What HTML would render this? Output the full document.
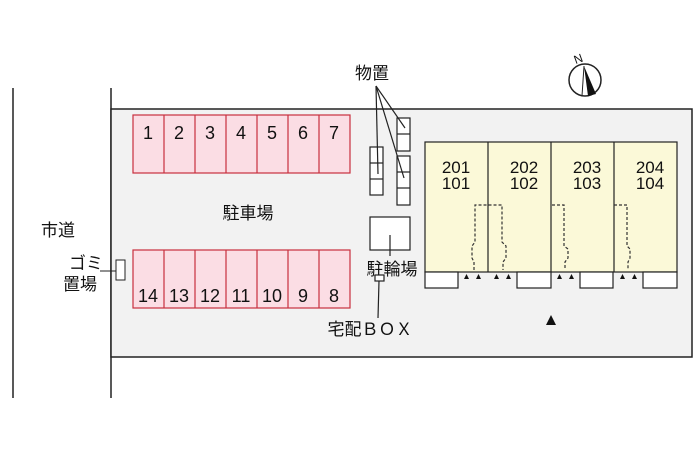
<!DOCTYPE html><html><head><meta charset="utf-8"><style>
body{margin:0;background:#fff}
svg text{font-family:"Liberation Sans","Noto Sans CJK JP",sans-serif;fill:#111}
</style></head><body>
<svg width="700" height="466" viewBox="0 0 700 466" xmlns="http://www.w3.org/2000/svg">
<line x1="13" y1="88" x2="13" y2="398" stroke="#222" stroke-width="1.5"/>
<line x1="111" y1="88" x2="111" y2="398" stroke="#222" stroke-width="1.5"/>
<rect x="111" y="109" width="581" height="248" fill="#f2f2f2" stroke="#222" stroke-width="1.5"/>
<g fill="#fbdde4" stroke="#c9303e" stroke-width="1.2">
<rect x="133" y="115" width="217" height="58"/><rect x="133" y="250" width="217" height="58"/>
</g>
<g stroke="#c9303e" stroke-width="1.2">
<line x1="164" y1="115" x2="164" y2="173"/><line x1="195" y1="115" x2="195" y2="173"/><line x1="226" y1="115" x2="226" y2="173"/><line x1="257" y1="115" x2="257" y2="173"/><line x1="288" y1="115" x2="288" y2="173"/><line x1="319" y1="115" x2="319" y2="173"/>
<line x1="164" y1="250" x2="164" y2="308"/><line x1="195" y1="250" x2="195" y2="308"/><line x1="226" y1="250" x2="226" y2="308"/><line x1="257" y1="250" x2="257" y2="308"/><line x1="288" y1="250" x2="288" y2="308"/><line x1="319" y1="250" x2="319" y2="308"/>
</g>
<g font-size="18" text-anchor="middle">
<text x="148" y="139">1</text><text x="179" y="139">2</text><text x="210" y="139">3</text><text x="241" y="139">4</text><text x="272" y="139">5</text><text x="303" y="139">6</text><text x="334" y="139">7</text>
<text x="148" y="302">14</text><text x="179" y="302">13</text><text x="210" y="302">12</text><text x="241" y="302">11</text><text x="272" y="302">10</text><text x="303" y="302">9</text><text x="334" y="302">8</text>
</g>
<g font-size="17" text-anchor="middle">
<text x="248" y="219">駐車場</text><text x="58" y="236">市道</text>
<text x="86" y="269">ゴミ</text><text x="80" y="290">置場</text>
<text x="372" y="79">物置</text><text x="392" y="275">駐輪場</text><text x="370" y="335">宅配ＢＯＸ</text>
</g>
<rect x="116" y="260" width="9" height="20" fill="#fff" stroke="#222"/>
<line x1="100" y1="271" x2="116" y2="271" stroke="#222"/>
<g fill="#fff" stroke="#222" stroke-width="1.2">
<rect x="370" y="147" width="13" height="48"/><rect x="397" y="118" width="13" height="33"/><rect x="397" y="156" width="13" height="49"/>
<rect x="370" y="217" width="40" height="33"/><rect x="375" y="275" width="9" height="6"/>
</g>
<g stroke="#222" stroke-width="1.2">
<line x1="370" y1="163" x2="383" y2="163"/><line x1="370" y1="179" x2="383" y2="179"/>
<line x1="397" y1="134" x2="410" y2="134"/><line x1="397" y1="172" x2="410" y2="172"/><line x1="397" y1="188" x2="410" y2="188"/>
<line x1="376" y1="86" x2="405" y2="128"/><line x1="376" y1="86" x2="404" y2="178"/><line x1="376" y1="86" x2="378" y2="174"/>
<line x1="390" y1="235" x2="390" y2="256"/><line x1="379" y1="281" x2="378" y2="318"/>
</g>
<rect x="425" y="142" width="252" height="130" fill="#fbf9d8" stroke="#222" stroke-width="1.2"/>
<g stroke="#222" stroke-width="1.2"><line x1="488" y1="142" x2="488" y2="272"/><line x1="551" y1="142" x2="551" y2="272"/><line x1="614" y1="142" x2="614" y2="272"/></g>
<g fill="#fff" stroke="#222" stroke-width="1.2">
<rect x="425" y="272" width="33" height="16"/><rect x="517" y="272" width="34" height="16"/><rect x="580" y="272" width="33" height="16"/><rect x="643" y="272" width="34" height="16"/>
</g>
<g font-size="17" text-anchor="middle">
<text x="456" y="173">201</text><text x="456" y="189">101</text>
<text x="524" y="173">202</text><text x="524" y="189">102</text>
<text x="587" y="173">203</text><text x="587" y="189">103</text>
<text x="650" y="173">204</text><text x="650" y="189">104</text>
</g>
<g fill="none" stroke="#333" stroke-width="1.2" stroke-dasharray="3,2">
<path d="M474 270 V262 L472 258 V246 L475 242 V205 H502 V242 L506 246 V258 L503 262 V270"/>
<path d="M552 205 H564 V246 L568 249 V258 L565 262 V270"/>
<path d="M614 205 H627 V246 L630 249 V258 L628 262 V270"/>
</g>
<g fill="#111">
<path d="M464 279 l2.5-5 l2.5 5z"/><path d="M476 279 l2.5-5 l2.5 5z"/>
<path d="M494 279 l2.5-5 l2.5 5z"/><path d="M506 279 l2.5-5 l2.5 5z"/>
<path d="M557 279 l2.5-5 l2.5 5z"/><path d="M569 279 l2.5-5 l2.5 5z"/>
<path d="M620 279 l2.5-5 l2.5 5z"/><path d="M632 279 l2.5-5 l2.5 5z"/>
<path d="M546 325 l5-10 l5 10z"/>
</g>
<circle cx="585" cy="80" r="16" fill="#fff" stroke="#222" stroke-width="1.5"/>
<path d="M584 66 L596 94 L588 96 Z" fill="#111"/>
<line x1="584" y1="66" x2="582" y2="96" stroke="#222"/>
<text x="578" y="63" font-size="12" text-anchor="middle" transform="rotate(-20 578 58)">N</text>
</svg>
</body></html>
